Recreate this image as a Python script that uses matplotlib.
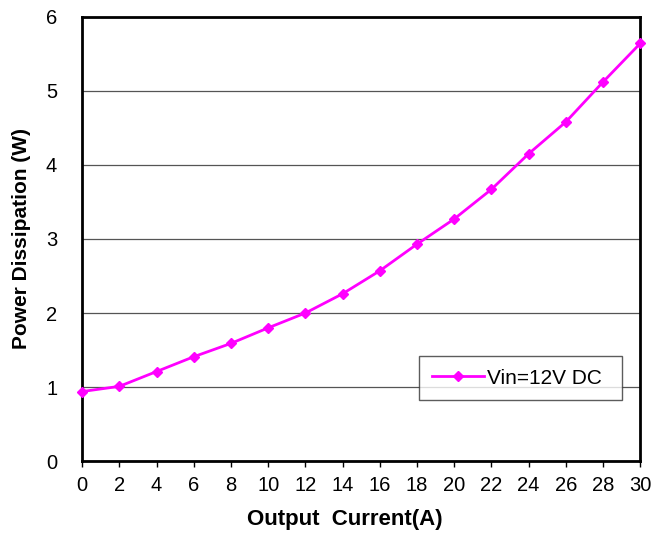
import matplotlib
matplotlib.use("Agg")
import matplotlib.pyplot as plt
import numpy as np

plt.rcParams['font.family'] = ['Liberation Sans', 'DejaVu Sans']

# output current (A) and power dissipation (W)
current = [0, 2, 4, 6, 8, 10, 12, 14, 16, 18, 20, 22, 24, 26, 28, 30]
power = [0.94, 1.01, 1.21, 1.41, 1.59, 1.80, 2.00, 2.26, 2.57, 2.93,
         3.27, 3.67, 4.15, 4.58, 5.12, 5.64]
series_label = 'Vin=12V DC'

fig = plt.figure(figsize=(6.52, 5.4), dpi=100)
ax = fig.add_axes([0.126, 0.146, 0.856, 0.823])

ax.plot(current, power, color='#ff00ff', lw=2, marker='D', markersize=5.5,
        label=series_label, zorder=3, clip_on=False)

ax.set_xlim(0, 30)
ax.set_ylim(0, 6)
ax.set_xticks(np.arange(0, 31, 2))
ax.set_yticks(np.arange(0, 7, 1))
ax.yaxis.grid(True, color='#555555', lw=0.9)
ax.set_axisbelow(True)

for s in ax.spines.values():
    s.set_linewidth(2)
    s.set_color('black')

ax.tick_params(axis='x', length=4, width=1, labelsize=14.5, pad=7)
ax.tick_params(axis='y', length=0, labelsize=14.5, pad=18)

ax.set_xlabel('Output  Current(A)', fontsize=16, fontweight='bold', labelpad=10)
ax.xaxis.label.set_x(0.471)
ax.set_ylabel('Power Dissipation (W)', fontsize=15, fontweight='bold', labelpad=11)

leg = ax.legend(loc='lower left', bbox_to_anchor=(0.604, 0.137, 0.364, 0.131),
                mode='expand', fontsize=15, frameon=True, fancybox=False,
                borderpad=0.6, handlelength=2.5, handletextpad=0.15,
                borderaxespad=0)
leg.get_frame().set_edgecolor('#333333')
leg.get_frame().set_linewidth(1)

plt.savefig('out.png', dpi=100)
